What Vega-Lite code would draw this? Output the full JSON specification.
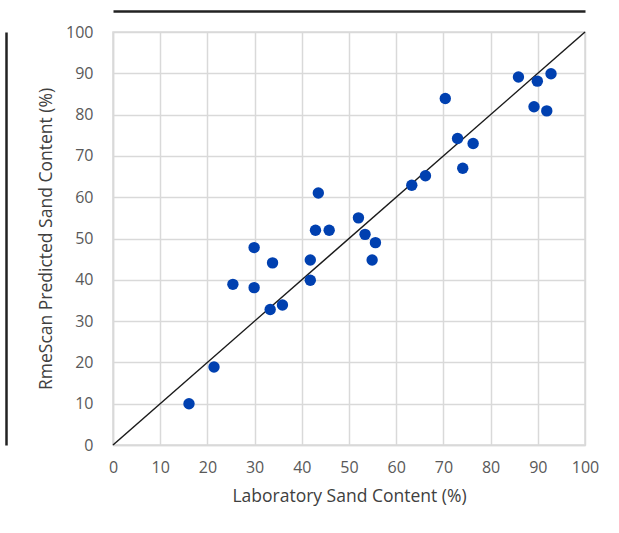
{
  "$schema": "https://vega.github.io/schema/vega-lite/v6.json",
  "autosize": "none",
  "width": 472,
  "height": 413,
  "padding": {"left": 113, "top": 32, "right": 34, "bottom": 88},
  "background": "white",
  "config": {
    "view": {"stroke": "#d9d9d9", "strokeWidth": 1.5},
    "font": "Open Sans"
  },
  "datasets": {
    "pts": [
      {"lab": 16.1, "pred": 10.0},
      {"lab": 21.4, "pred": 18.9},
      {"lab": 25.4, "pred": 38.9},
      {"lab": 29.9, "pred": 47.8},
      {"lab": 29.9, "pred": 38.1},
      {"lab": 33.8, "pred": 44.1},
      {"lab": 33.3, "pred": 32.8},
      {"lab": 35.9, "pred": 33.9},
      {"lab": 41.8, "pred": 44.8},
      {"lab": 41.8, "pred": 39.9},
      {"lab": 42.9, "pred": 52.0},
      {"lab": 45.8, "pred": 52.0},
      {"lab": 43.5, "pred": 61.0},
      {"lab": 52.0, "pred": 55.0},
      {"lab": 53.4, "pred": 51.0},
      {"lab": 55.6, "pred": 49.0},
      {"lab": 54.9, "pred": 44.8},
      {"lab": 63.3, "pred": 62.9},
      {"lab": 66.2, "pred": 65.2},
      {"lab": 70.4, "pred": 83.9},
      {"lab": 73.0, "pred": 74.2},
      {"lab": 76.3, "pred": 73.0},
      {"lab": 74.1, "pred": 67.0},
      {"lab": 85.9, "pred": 89.1},
      {"lab": 89.9, "pred": 88.1},
      {"lab": 92.8, "pred": 89.9},
      {"lab": 89.2, "pred": 81.9},
      {"lab": 91.9, "pred": 80.9}
    ],
    "oneToOne": [
      {"lab": 0, "pred": 0},
      {"lab": 100, "pred": 100}
    ]
  },
  "resolve": {"axis": {"x": "independent", "y": "independent"}},
  "layer": [
    {
      "data": {"name": "oneToOne"},
      "mark": {"type": "line", "color": "#1a1a1a", "strokeWidth": 1.5},
      "encoding": {
        "x": {
          "field": "lab", "type": "quantitative",
          "scale": {"domain": [0, 100], "nice": false},
          "axis": {"orient": "top", "offset": 21, "domain": true, "domainColor": "#222222", "domainWidth": 2.5, "labels": false, "ticks": false, "grid": false, "title": null}
        },
        "y": {
          "field": "pred", "type": "quantitative",
          "scale": {"domain": [0, 100], "nice": false},
          "axis": {"orient": "left", "offset": 107, "domain": true, "domainColor": "#222222", "domainWidth": 2.5, "labels": false, "ticks": false, "grid": false, "title": null}
        }
      }
    },
    {
      "data": {"name": "pts"},
      "mark": {"type": "circle", "size": 130, "color": "#0040b0", "opacity": 1},
      "encoding": {
        "x": {
          "field": "lab", "type": "quantitative",
          "scale": {"domain": [0, 100], "nice": false},
          "axis": {
            "orient": "bottom", "values": [0,10,20,30,40,50,60,70,80,90,100],
            "grid": true, "gridColor": "#d9d9d9", "gridWidth": 1.5,
            "domainColor": "#d9d9d9", "domainWidth": 1.5, "ticks": false,
            "labelFlush": false, "labelOverlap": false,
            "labelFontSize": 16, "labelColor": "#595959", "labelPadding": 14,
            "title": "Laboratory Sand Content  (%)", "titleFontSize": 17.5, "titleFontWeight": "normal", "titleColor": "#404040", "titlePadding": 12
          }
        },
        "y": {
          "field": "pred", "type": "quantitative",
          "scale": {"domain": [0, 100], "nice": false},
          "axis": {
            "orient": "left", "values": [0,10,20,30,40,50,60,70,80,90,100],
            "grid": true, "gridColor": "#d9d9d9", "gridWidth": 1.5,
            "domainColor": "#d9d9d9", "domainWidth": 1.5, "ticks": false,
            "labelFlush": false, "labelOverlap": false,
            "labelFontSize": 16, "labelColor": "#595959", "labelPadding": 20,
            "title": "RmeScan Predicted Sand Content  (%)", "titleFontSize": 17.5, "titleFontWeight": "normal", "titleColor": "#404040", "titlePadding": 10
          }
        }
      }
    }
  ]
}
